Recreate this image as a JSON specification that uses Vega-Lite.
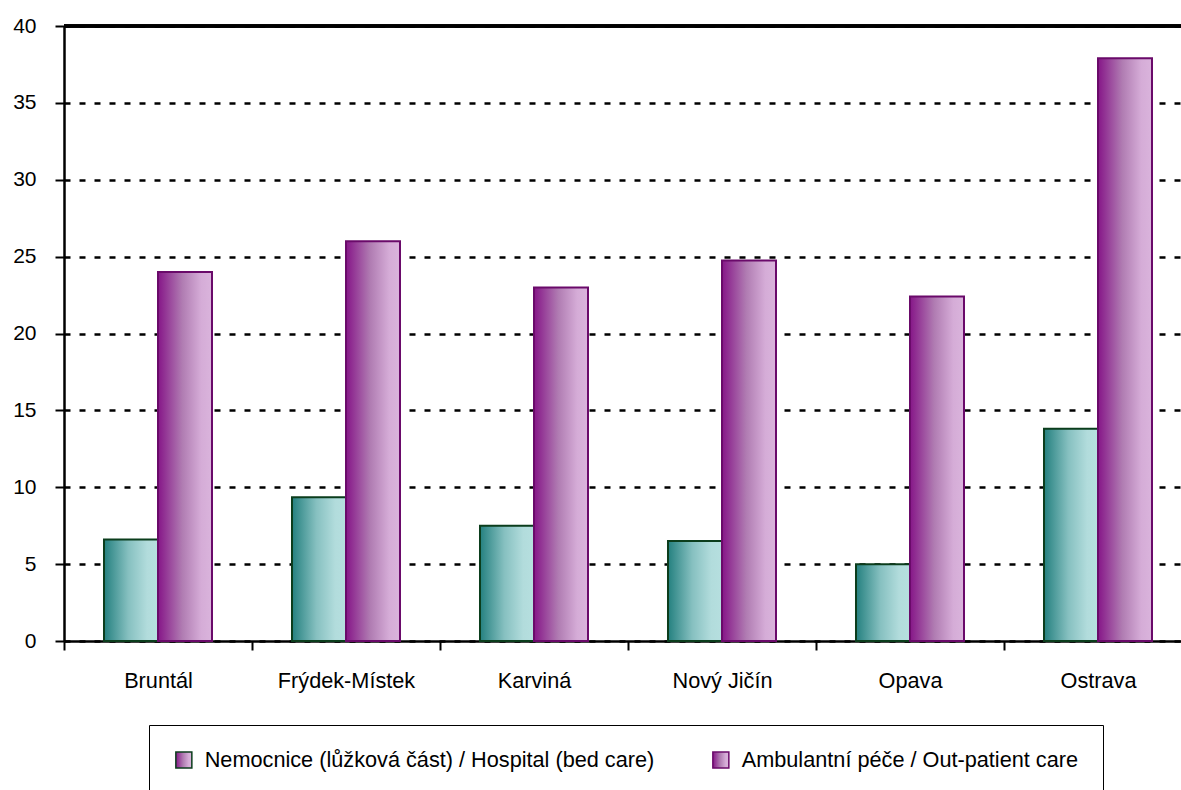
{
  "$schema": "https://vega.github.io/schema/vega-lite/v6.json",
  "width": 1117,
  "height": 615,
  "autosize": {"type": "none"},
  "padding": {"left": 64, "top": 26, "right": 0, "bottom": 149},
  "background": "white",
  "config": {
    "view": {"stroke": null},
    "font": "Liberation Sans",
    "axis": {"labelColor": "black", "labelFont": "Liberation Sans"}
  },
  "data": {
    "values": [
      {"district": "Bruntál", "series": "Nemocnice (lůžková část) / Hospital (bed care)", "value": 6.6},
      {"district": "Bruntál", "series": "Ambulantní péče / Out-patient care", "value": 24.0},
      {"district": "Frýdek-Místek", "series": "Nemocnice (lůžková část) / Hospital (bed care)", "value": 9.35},
      {"district": "Frýdek-Místek", "series": "Ambulantní péče / Out-patient care", "value": 26.0},
      {"district": "Karviná", "series": "Nemocnice (lůžková část) / Hospital (bed care)", "value": 7.5},
      {"district": "Karviná", "series": "Ambulantní péče / Out-patient care", "value": 23.0},
      {"district": "Nový Jičín", "series": "Nemocnice (lůžková část) / Hospital (bed care)", "value": 6.5},
      {"district": "Nový Jičín", "series": "Ambulantní péče / Out-patient care", "value": 24.75},
      {"district": "Opava", "series": "Nemocnice (lůžková část) / Hospital (bed care)", "value": 5.0},
      {"district": "Opava", "series": "Ambulantní péče / Out-patient care", "value": 22.4},
      {"district": "Ostrava", "series": "Nemocnice (lůžková část) / Hospital (bed care)", "value": 13.8},
      {"district": "Ostrava", "series": "Ambulantní péče / Out-patient care", "value": 37.9}
    ]
  },
  "layer": [
    {
      "mark": {"type": "bar", "strokeWidth": 2},
      "encoding": {
        "x": {
          "field": "district",
          "type": "nominal",
          "sort": null,
          "scale": {"range": [0, 1128], "paddingInner": 0, "paddingOuter": 0},
          "axis": {
            "title": null,
            "labelAngle": 0,
            "tickBand": "extent",
            "domainColor": "black",
            "domainWidth": 2.5,
            "tickColor": "black",
            "tickSize": 9,
            "tickWidth": 2,
            "labelFontSize": 21.7,
            "labelPadding": 20,
            "grid": false
          }
        },
        "xOffset": {
          "field": "series",
          "type": "nominal",
          "sort": ["Nemocnice (lůžková část) / Hospital (bed care)", "Ambulantní péče / Out-patient care"],
          "scale": {"paddingInner": 0, "paddingOuter": 0.7407}
        },
        "y": {
          "field": "value",
          "type": "quantitative",
          "scale": {"domain": [0, 40], "nice": false},
          "axis": {
            "title": null,
            "values": [0, 5, 10, 15, 20, 25, 30, 35, 40],
            "grid": true,
            "gridColor": "black",
            "gridDash": [6, 9],
            "gridWidth": 2.5,
            "domainColor": "black",
            "domainWidth": 2.5,
            "tickColor": "black",
            "tickSize": 9,
            "tickWidth": 2,
            "labelFontSize": 21,
            "labelPadding": 19
          }
        },
        "fill": {
          "condition": {
            "test": "datum.series === 'Nemocnice (lůžková část) / Hospital (bed care)'",
            "value": {"id": "hospGrad", "gradient": "linear", "x1": 0, "y1": 0, "x2": 1, "y2": 0, "stops": [{"offset": 0, "color": "#24807f"}, {"offset": 0.45, "color": "#86c0c0"}, {"offset": 0.8, "color": "#b2dcdc"}, {"offset": 1, "color": "#b6dfdf"}]}
          },
          "value": {"id": "ambGrad", "gradient": "linear", "x1": 0, "y1": 0, "x2": 1, "y2": 0, "stops": [{"offset": 0, "color": "#861688"}, {"offset": 0.45, "color": "#b07cb2"}, {"offset": 0.8, "color": "#d5acd7"}, {"offset": 1, "color": "#dab4dc"}]}
        },
        "stroke": {
          "field": "series",
          "type": "nominal",
          "scale": {
            "domain": ["Nemocnice (lůžková část) / Hospital (bed care)", "Ambulantní péče / Out-patient care"],
            "range": ["#0b3d1c", "#6a0a6a"]
          },
          "legend": {
            "title": null,
            "orient": "none",
            "legendX": 85,
            "legendY": 699,
            "direction": "horizontal",
            "columns": 2,
            "labelFontSize": 21.7,
            "labelFont": "Liberation Sans",
            "labelColor": "black",
            "labelLimit": 0,
            "symbolType": "square",
            "symbolSize": 256,
            "symbolStrokeWidth": 1.5,
            "labelOffset": 10,
            "columnPadding": 54,
            "padding": 24,
            "strokeColor": "black",
            "fillColor": "white",
            "encode": {
              "symbols": {
                "fill": {"value": {"expr": "indexof(datum.value, 'Nemocnice') === 0 ? {id: 'hospGradL', gradient: 'linear', x1: 0, y1: 0, x2: 1, y2: 0, stops: [{offset: 0, color: '#24807f'}, {offset: 1, color: '#b6dfdf'}]} : {id: 'ambGradL', gradient: 'linear', x1: 0, y1: 0, x2: 1, y2: 0, stops: [{offset: 0, color: '#861688'}, {offset: 1, color: '#dab4dc'}]}"}},
                "opacity": {"value": 1}
              }
            }
          }
        }
      }
    },
    {
      "mark": {"type": "rule", "color": "black", "strokeWidth": 2.5},
      "encoding": {"y": {"datum": 40}}
    }
  ]
}
